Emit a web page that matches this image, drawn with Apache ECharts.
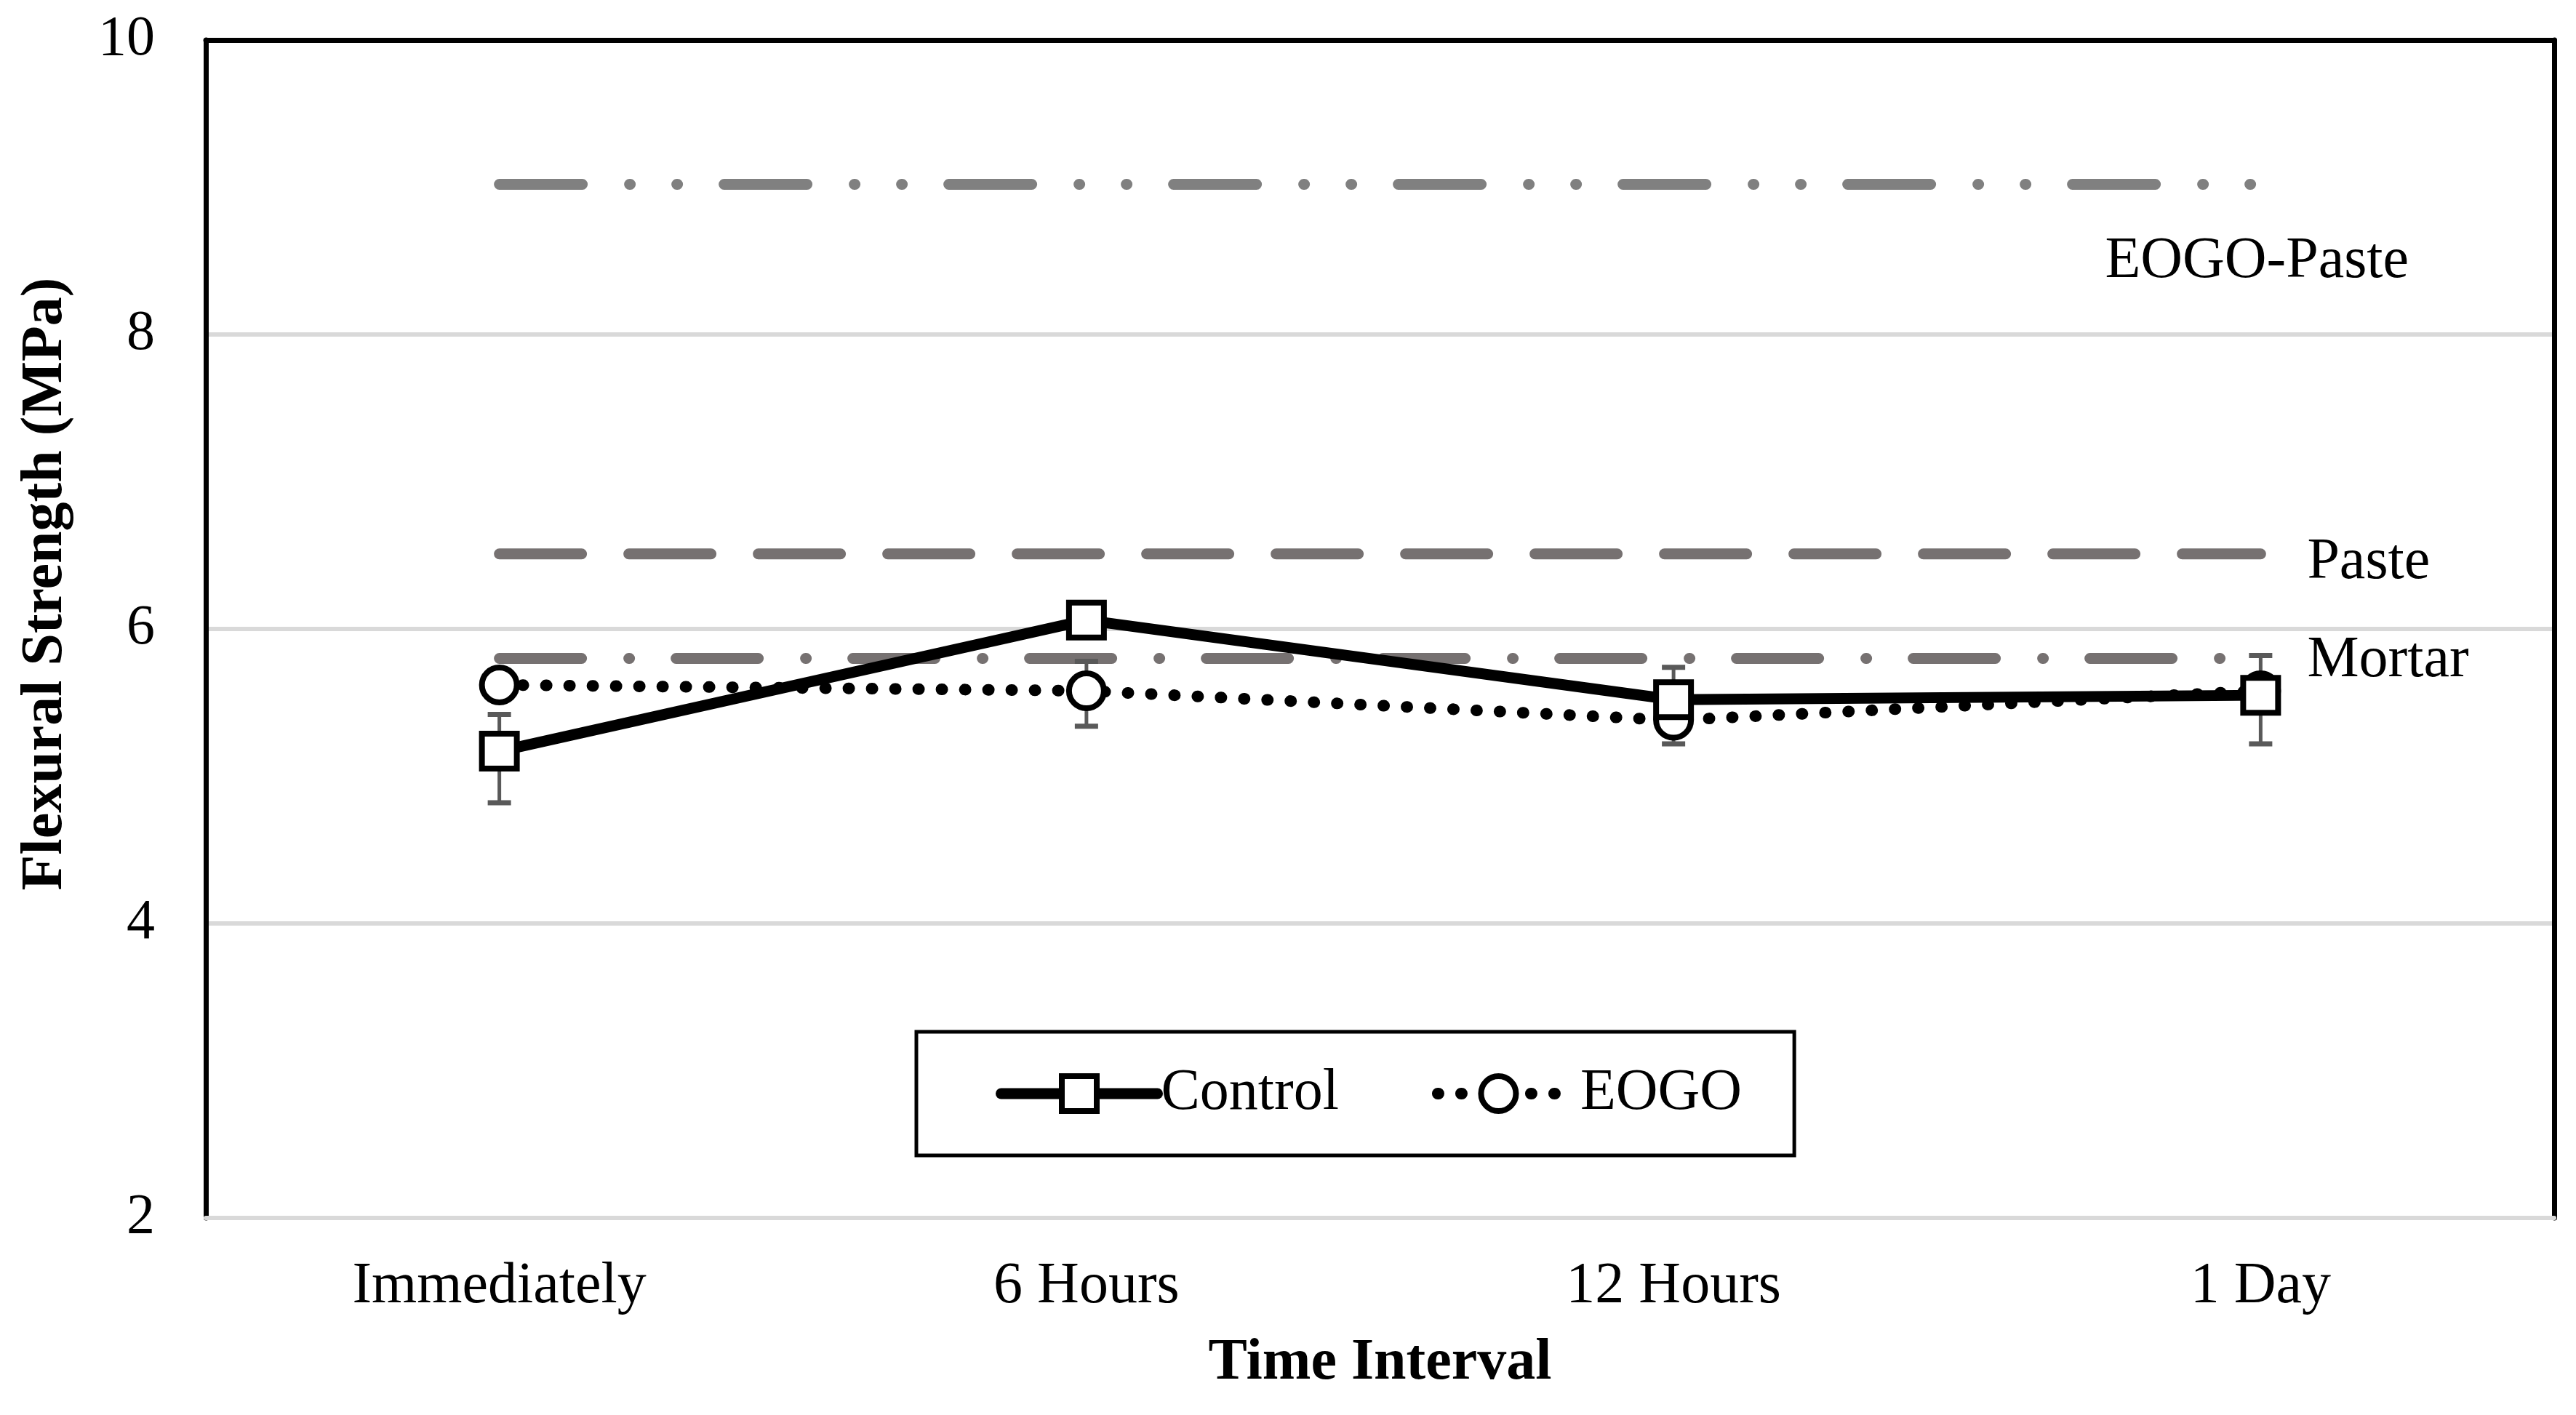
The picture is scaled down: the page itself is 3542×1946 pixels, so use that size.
<!DOCTYPE html>
<html>
<head>
<meta charset="utf-8">
<script src="https://cdn.jsdelivr.net/npm/echarts@6/dist/echarts.min.js"></script>
<style>html,body{margin:0;padding:0;background:#fff}#c{width:3542px;height:1946px}</style>
</head>
<body>
<div id="c"></div>
<script>
const categories = ['Immediately', '6 Hours', '12 Hours', '1 Day'];
const controlValues = [5.17, 6.06, 5.52, 5.55];
const controlErrPlus = [0.25, 0.05, 0.22, 0.27];
const controlErrMinus = [0.35, 0.05, 0.30, 0.33];
const eogoValues = [5.62, 5.58, 5.38, 5.58];
const eogoErrPlus = [0.08, 0.20, 0.08, 0.08];
const eogoErrMinus = [0.08, 0.24, 0.08, 0.08];
const refNames = ['EOGO-Paste', 'Paste', 'Mortar'];
const refValues = [9.02, 6.51, 5.80];
const yTicks = [2, 4, 6, 8, 10];

const FONT = '"Liberation Serif", "Times New Roman", serif';
const chart = echarts.init(document.getElementById('c'), null, {renderer: 'canvas'});

function errorSeries(name, vals, plus, minus) {
  return {
    type: 'custom', name: name + ' err', z: 2, silent: true,
    data: vals.map((v, i) => [i, v - minus[i], v + plus[i]]),
    encode: {x: 0, y: [1, 2]},
    renderItem: function (params, api) {
      const idx = api.value(0);
      const lo = api.coord([idx, api.value(1)]);
      const hi = api.coord([idx, api.value(2)]);
      const cw = 16;
      return {type: 'group', children: [
        {type: 'line', shape: {x1: hi[0], y1: hi[1], x2: lo[0], y2: lo[1]}, style: {stroke: '#595959', lineWidth: 5}},
        {type: 'line', shape: {x1: hi[0] - cw, y1: hi[1], x2: hi[0] + cw, y2: hi[1]}, style: {stroke: '#595959', lineWidth: 7}},
        {type: 'line', shape: {x1: lo[0] - cw, y1: lo[1], x2: lo[0] + cw, y2: lo[1]}, style: {stroke: '#595959', lineWidth: 7}}
      ]};
    }
  };
}

const refStyles = [
  {color: '#808080', dash: [114, 65, 1, 64, 1, 64], offset: [-222, 107]},
  {color: '#767171', dash: [113, 65], offset: [56, 12]},
  {color: '#767171', dash: [113, 65, 1, 64], offset: [56, 3]}
];
const refSeries = refNames.map((n, k) => ({
  type: 'line', name: n, z: 1, silent: true,
  data: categories.map(() => refValues[k]),
  symbol: 'none', showSymbol: false,
  lineStyle: {color: refStyles[k].color, width: 15, type: refStyles[k].dash, cap: 'round'},
  endLabel: {show: true, formatter: n, color: '#000', fontFamily: FONT, fontSize: 80,
    offset: refStyles[k].offset, align: 'left'},
  emphasis: {disabled: true}
}));

const controlLine = {color: '#000', width: 15};
const eogoLine = {color: '#000', width: 16, type: [1, 31], cap: 'round'};
const markerStyle = {color: '#fff', borderColor: '#000', borderWidth: 8};

const option = {
  animation: false,
  backgroundColor: '#fff',
  grid: {left: 283, right: 30, top: 55, bottom: 271, containLabel: false},
  legend: {
    data: [
      {name: 'Control', lineStyle: {color: '#000', width: 15, type: 'solid', cap: 'round'},
        itemStyle: {color: '#fff', borderColor: '#000', borderWidth: 8}},
      {name: 'EOGO', lineStyle: {color: '#000', width: 16, type: [1, 31], cap: 'round', dashOffset: 8},
        itemStyle: {color: '#fff', borderColor: '#000', borderWidth: 8}}
    ],
    left: 1260, top: 1419,
    orient: 'horizontal',
    padding: [45, 72, 45, 109],
    itemGap: 104,
    itemWidth: 215, itemHeight: 60,
    borderColor: '#000', borderWidth: 5,
    textStyle: {fontFamily: FONT, fontSize: 80, color: '#000', padding: [0, 0, 0, 0]}
  },
  xAxis: [{
    type: 'category', data: categories, position: 'bottom',
    axisLine: {show: true, lineStyle: {color: '#d9d9d9', width: 6}},
    axisTick: {show: false},
    axisLabel: {fontFamily: FONT, fontSize: 80, color: '#000', margin: 55},
    name: 'Time Interval', nameLocation: 'middle', nameGap: 160,
    nameTextStyle: {fontFamily: FONT, fontSize: 80, fontWeight: 'bold', color: '#000'},
    splitLine: {show: false}
  }, {
    type: 'category', data: categories, position: 'top',
    axisLine: {show: true, lineStyle: {color: '#000', width: 7}},
    axisTick: {show: false}, axisLabel: {show: false}, splitLine: {show: false}
  }],
  yAxis: [{
    type: 'value', min: 2, max: 10, interval: 2,
    axisLine: {show: true, lineStyle: {color: '#000', width: 7}},
    axisTick: {show: false},
    axisLabel: {fontFamily: FONT, fontSize: 78, color: '#000', margin: 70,
      formatter: v => yTicks.includes(v) ? String(v) : ''},
    splitLine: {show: true, lineStyle: {color: '#d9d9d9', width: 6}},
    name: 'Flexural Strength (MPa)', nameLocation: 'middle', nameGap: 180,
    nameTextStyle: {fontFamily: FONT, fontSize: 80, fontWeight: 'bold', color: '#000', padding: [0, 0, 0, 124]}
  }, {
    type: 'value', min: 2, max: 10, interval: 2, position: 'right',
    axisLine: {show: true, lineStyle: {color: '#000', width: 7}},
    axisTick: {show: false}, axisLabel: {show: false}, splitLine: {show: false}
  }],
  series: [
    ...refSeries,
    errorSeries('Control', controlValues, controlErrPlus, controlErrMinus),
    errorSeries('EOGO', eogoValues, eogoErrPlus, eogoErrMinus),
    {
      type: 'line', name: 'EOGO', z: 3, data: eogoValues,
      symbol: 'circle', symbolSize: 48,
      itemStyle: markerStyle, lineStyle: eogoLine
    },
    {
      type: 'line', name: 'Control', z: 4, data: controlValues,
      symbol: 'rect', symbolSize: 48,
      itemStyle: markerStyle, lineStyle: controlLine
    }
  ]
};
chart.setOption(option);
</script>
</body>
</html>
